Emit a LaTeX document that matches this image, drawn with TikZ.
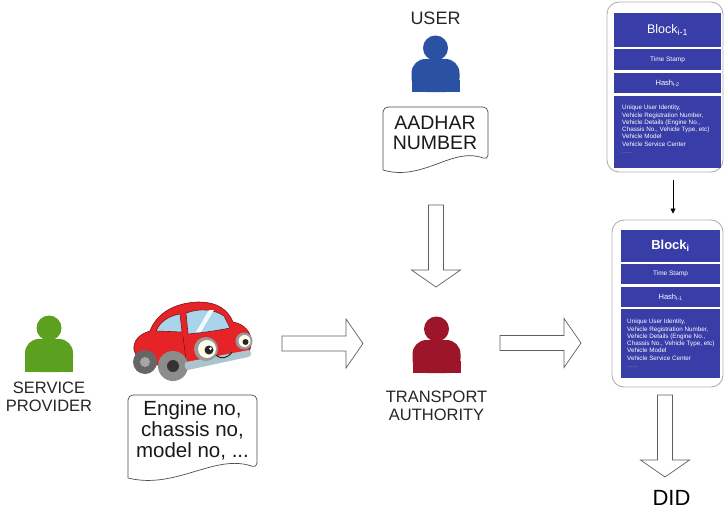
\documentclass[tikz,border=0pt]{standalone}
\usepackage{fontspec}
\setmainfont{Liberation Sans}
\usepackage{tikz}
\usetikzlibrary{calc, arrows.meta, positioning}

\definecolor{userblue}{RGB}{43,81,162}
\definecolor{providergreen}{RGB}{92,160,32}
\definecolor{authred}{RGB}{157,21,40}
\definecolor{chainblue}{RGB}{57,61,167}
\definecolor{carred}{RGB}{230,36,40}
\definecolor{carline}{RGB}{120,20,20}
\definecolor{glass}{RGB}{168,212,236}
\definecolor{bumper}{RGB}{170,198,204}
\definecolor{arrowgray}{RGB}{95,95,95}

% fat outlined arrow from #1 to #2
\newcommand{\fatarrow}[2]{%
  \coordinate (fat-base) at ($(#2)!17pt!(#1)$);
  \draw[fatline] ($(#1)!7.5pt!90:(#2)$) -- ($(fat-base)!7.5pt!-90:(#1)$)
    -- ($(fat-base)!24.5pt!-90:(#1)$) -- (#2)
    -- ($(fat-base)!24.5pt!90:(#1)$) -- ($(fat-base)!7.5pt!90:(#1)$)
    -- ($(#1)!7.5pt!-90:(#2)$) -- cycle;}

\tikzset{
  pics/person/.style={code={
    \fill[#1, rounded corners=14pt] (-24,0) rectangle (24,-33);
    \fill[#1] (-24,-12) rectangle (24,0);
    \fill[#1] (0,-44) circle (12.5);
    \coordinate (-foot) at (0,0);
    \coordinate (-head) at (0,-57);
  }},
}

\begin{document}
\begin{tikzpicture}[x=1pt, y=-1pt,
  iconlbl/.style={font=\fontsize{16.5}{18}\selectfont, text=black!85, align=center, inner sep=0pt},
  doctext/.style={font=\fontsize{20.5}{21}\selectfont, text=black!90, align=center, inner sep=0pt},
  docline/.style={draw=black!70, line width=0.7pt},
  fatline/.style={draw=arrowgray, line width=0.7pt, fill=white},
  shell/.style={draw=black!30, line width=0.9pt, rounded corners=12pt, fill=white, inner sep=0pt},
  cell/.style={fill=chainblue, text=white, inner sep=0pt, align=center},
  celltext/.style={font=\fontsize{6.3}{7.3}\selectfont, text=white, align=left, inner sep=0pt, anchor=north west},
  linkarrow/.style={-{Triangle[length=5pt, width=5pt]}, line width=0.8pt},
]
  % canvas
  \useasboundingbox (0,0) rectangle (725,519);
  \fill[white] (0,0) rectangle (725,519);

  % the three parties
  \pic (provider) at (49,372) {person=providergreen};
  \pic (user) at (435.5,92) {person=userblue};
  \pic (authority) at (436.5,373) {person=authred};

  \node[iconlbl, below=10pt of provider-foot] (providerlbl) {SERVICE\\PROVIDER};
  \node[iconlbl, below=18pt of authority-foot] (authoritylbl) {TRANSPORT\\AUTHORITY};
  \node[iconlbl, font=\fontsize{18}{20}\selectfont, above=10pt of user-head] (userlbl) {USER};

  % documents with wavy bottom
  \node[doctext, font=\fontsize{19.5}{20}\selectfont] (aadhar) at (435,133) {AADHAR\\NUMBER};
  \draw[docline] ($(aadhar.center)+(-52,37)$) [rounded corners=5pt]
    -- ($(aadhar.center)+(-52,-26)$) -- ($(aadhar.center)+(53,-26)$)
    -- ($(aadhar.center)+(53,27)$) [sharp corners]
    .. controls +(-35,-14) and +(40,12) .. ($(aadhar.center)+(-52,37)$);

  \node[doctext] (engine) at (192.5,430) {Engine no,\\chassis no,\\model no, ...};
  \draw[docline] ($(engine.center)+(-64.5,48)$) [rounded corners=5pt]
    -- ($(engine.center)+(-64.5,-35)$) -- ($(engine.center)+(64.5,-35)$)
    -- ($(engine.center)+(64.5,38)$) [sharp corners]
    .. controls +(-42,-15) and +(48,12) .. ($(engine.center)+(-64.5,48)$);

  % the car
  \begin{scope}[line width=0.6pt]
    \filldraw[fill=carred, draw=carline] (134,350) .. controls (133,340) and (140,334) .. (150,331)
      .. controls (156,315) and (172,303) .. (198,302)
      .. controls (218,302) and (228,310) .. (233,322)
      .. controls (244,324) and (252,332) .. (251,343)
      .. controls (251,352) and (246,357) .. (238,358)
      -- (190,366) .. controls (170,368) and (145,364) .. (138,360) -- cycle;
    \filldraw[fill=glass, draw=carline] (156,331) .. controls (160,322) and (168,316) .. (180,314)
      -- (182,332) -- cycle;
    \filldraw[fill=glass, draw=carline] (186,313) .. controls (200,308) and (214,309) .. (224,316)
      -- (230,328) .. controls (215,331) and (200,333) .. (188,334) -- cycle;
    \fill[white!85!glass] (196,332) -- (209,310) -- (214,310) -- (201,332) -- cycle;
    \draw[carline] (183,336) -- (186,360);
    % wheels
    \fill[black!60] (145,362) circle (12);
    \fill[black!35] (145,362) circle (5);
    \fill[black!45] (173,366) circle (15);
    \fill[black!80] (173,366) circle (6);
    % bumper
    \fill[bumper] (186,362) -- (249,350) .. controls (252,352) and (252,356) .. (248,357)
      -- (188,370) .. controls (184,369) and (184,363) .. cycle;
    % face
    \fill[black!40] (206,349) circle (12);
    \fill[yellow!8] (207,349) circle (9);
    \fill[black!85] (209,350) circle (4.5);
    \fill[white] (210.5,348.5) circle (1.5);
    \fill[black!40] (244,341) circle (8.5);
    \fill[yellow!8] (244.5,341) circle (6);
    \fill[black!85] (245.5,342) circle (3);
    \draw[black!85, line width=1pt] (216,355) .. controls (221,360) and (228,358) .. (232,352);
  \end{scope}

  % previous block
  \node[shell, minimum width=116, minimum height=170] (prevblock) at (665,87) {};
  \node[cell, minimum width=107, minimum height=34, font=\fontsize{12.5}{14}\selectfont] (prevtitle) at (667.5,30) {Block\textsubscript{i-1}};
  \node[cell, minimum width=107, minimum height=21, font=\fontsize{6.5}{7}\selectfont] (prevtime) at (667.5,59.5) {Time Stamp};
  \node[cell, minimum width=107, minimum height=20, font=\fontsize{7.5}{8}\selectfont] (prevhash) at (667.5,83) {Hash\textsubscript{i-2}};
  \node[cell, minimum width=107, minimum height=72] (prevcontent) at (667.5,132) {};
  \node[celltext] (prevdata) at (622,105) {Unique User Identity,\\Vehicle Registration Number,\\Vehicle Details (Engine No.,\\Chassis No., Vehicle Type, etc)\\Vehicle Model\\Vehicle Service Center\\{\color{white!45!chainblue}......}};

  % current block
  \node[shell, minimum width=111, minimum height=167] (curblock) at (667.5,303.5) {};
  \node[cell, minimum width=99, minimum height=32, font=\bfseries\fontsize{13}{15}\selectfont] (curtitle) at (670.5,246) {Block\textsubscript{i}};
  \node[cell, minimum width=99, minimum height=20, font=\fontsize{6.5}{7}\selectfont] (curtime) at (670.5,274) {Time Stamp};
  \node[cell, minimum width=99, minimum height=20, font=\fontsize{7.5}{8}\selectfont] (curhash) at (670.5,297) {Hash\textsubscript{i-1}};
  \node[cell, minimum width=99, minimum height=69] (curcontent) at (670.5,343.5) {};
  \node[celltext] (curdata) at (627,319) {Unique User Identity,\\Vehicle Registration Number,\\Vehicle Details (Engine No.,\\Chassis No., Vehicle Type, etc)\\Vehicle Model\\Vehicle Service Center\\{\color{white!45!chainblue}......}};

  \draw[linkarrow] ([xshift=8pt, yshift=-8pt]prevblock.south) -- ([xshift=5.5pt, yshift=6pt]curblock.north);

  \node[font=\fontsize{22}{24}\selectfont] (did) at (671.5,498) {DID};

  % flow arrows
  \coordinate (car-out) at (282,343.5);
  \coordinate (auth-in) at (363,343.5);
  \coordinate (auth-out) at (500,343);
  \coordinate (chain-in) at (581,343);
  \coordinate (id-out) at (436,205);
  \coordinate (id-in) at (436,287);
  \coordinate (did-out) at (665,395);
  \coordinate (did-in) at (665,477);
  \fatarrow{car-out}{auth-in}
  \fatarrow{auth-out}{chain-in}
  \fatarrow{id-out}{id-in}
  \fatarrow{did-out}{did-in}
\end{tikzpicture}
\end{document}
